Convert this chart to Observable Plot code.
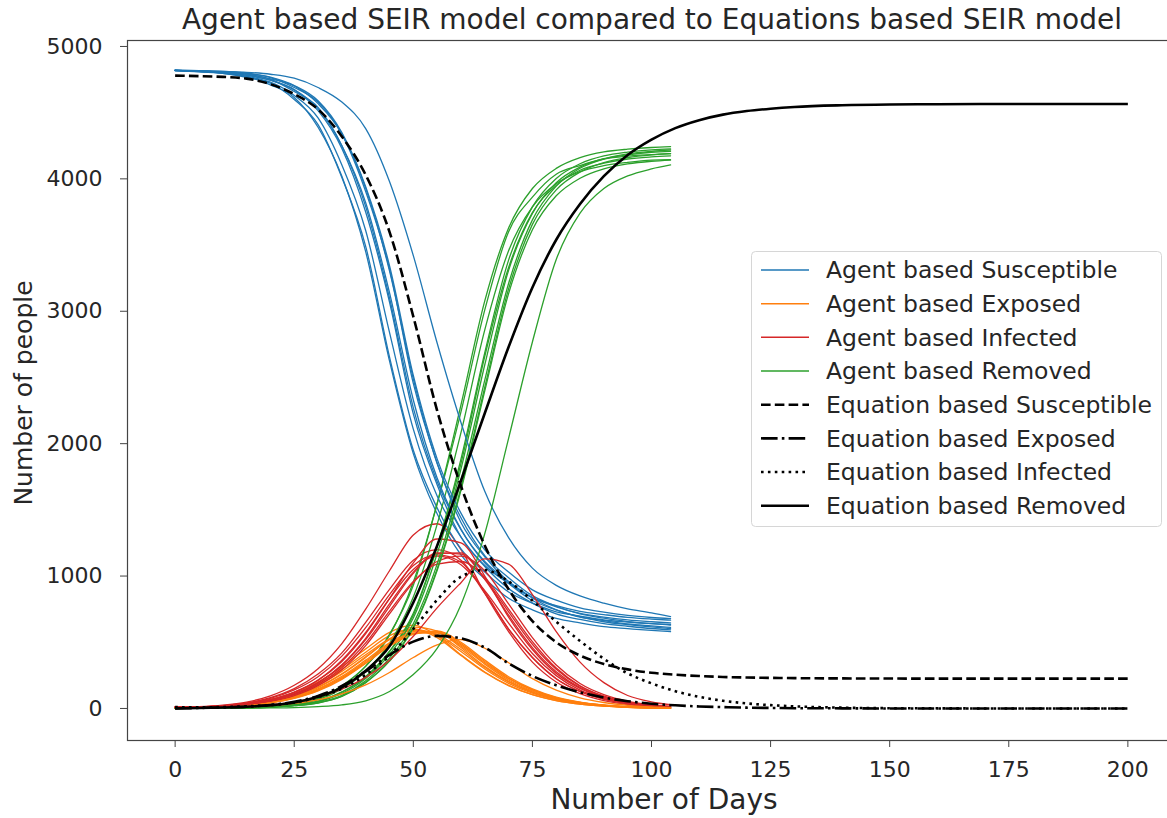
<!DOCTYPE html>
<html><head><meta charset="utf-8">
<script src="https://cdn.jsdelivr.net/npm/d3@7"></script>
<script src="https://cdn.jsdelivr.net/npm/@observablehq/plot@0.6"></script>
<style>body{margin:0;background:#fff;} svg{display:block;}</style>
</head><body><div id="chart"></div>
<script>
// ---------- data ----------
const agentDays = [0,5,10,15,20,25,30,35,40,45,50,55,60,65,70,75,80,85,90,95,100,104];

const agentSusceptible = [
  [4818,4810,4797,4772,4710,4615,4390,4020,3450,2625,1925,1470,1160,980,832,745,680,646,618,603,589,580],
  [4819,4813,4796,4766,4722,4600,4410,4010,3490,2655,1950,1515,1205,1030,880,795,730,698,668,653,641,634],
  [4820,4808,4801,4774,4730,4630,4460,4105,3610,2840,2110,1605,1295,1080,945,838,776,733,709,688,675,667],
  [4818,4815,4803,4784,4745,4672,4515,4230,3750,3070,2225,1690,1295,1072,905,796,715,672,640,621,604,594],
  [4822,4812,4806,4790,4752,4660,4540,4250,3790,3100,2270,1715,1350,1110,958,838,768,718,690,669,655,646],
  [4817,4816,4802,4782,4745,4675,4530,4250,3820,3140,2330,1740,1355,1100,945,815,745,690,663,638,623,612],
  [4820,4814,4810,4796,4765,4690,4580,4340,3930,3305,2490,1850,1440,1155,988,852,772,714,682,656,641,630],
  [4818,4816,4806,4790,4755,4702,4568,4338,3905,3320,2455,1855,1405,1145,958,834,745,694,655,633,616,603],
  [4821,4813,4811,4798,4768,4705,4590,4350,3940,3345,2515,1885,1475,1198,1030,896,818,760,727,703,687,678],
  [4821,4818,4812,4805,4790,4760,4690,4580,4380,3980,3420,2760,2160,1640,1290,1060,930,850,795,752,722,693]
];
const agentExposed = [
  [0,8,18,35,68,120,200,315,450,575,630,550,405,275,175,105,60,33,18,9,4,2],
  [0,6,15,30,60,110,185,295,425,550,600,535,400,272,172,104,60,33,18,9,4,2],
  [0,7,16,32,62,105,175,280,405,525,590,550,430,298,190,115,66,36,20,10,5,2],
  [0,5,12,25,50,92,158,258,385,525,615,585,460,318,205,125,73,40,22,11,5,3],
  [0,5,11,23,47,86,148,242,365,495,580,575,470,335,215,132,76,42,23,12,6,3],
  [0,6,13,27,52,95,163,262,390,520,595,560,445,310,200,122,70,39,21,11,5,3],
  [0,4,10,21,42,79,137,226,345,475,565,580,490,355,230,142,82,46,25,13,6,3],
  [0,5,11,22,44,82,142,233,355,485,570,570,480,345,225,138,80,45,24,12,6,3],
  [0,4,10,20,42,76,132,220,340,470,560,585,500,365,240,148,86,48,26,13,7,3],
  [0,3,6,11,21,38,65,110,178,272,385,480,520,455,345,225,138,80,45,24,12,6]
];
const agentInfected = [
  [10,14,25,48,95,175,300,490,750,1040,1310,1395,1200,870,580,350,200,112,60,30,15,8],
  [10,12,22,42,82,150,260,420,650,900,1120,1200,1120,880,600,385,225,128,70,37,18,10],
  [10,13,20,40,76,140,240,395,610,860,1080,1160,1105,870,600,385,225,128,70,36,17,9],
  [10,12,18,34,65,122,212,355,565,830,1100,1280,1250,1000,690,445,265,152,84,44,22,12],
  [10,11,17,32,60,110,195,325,520,770,1020,1170,1175,975,705,460,278,158,88,47,24,13],
  [10,12,19,36,68,124,215,365,575,830,1050,1150,1085,890,645,415,248,138,77,40,20,10],
  [10,11,16,29,52,97,172,292,475,715,950,1110,1150,1040,790,535,328,188,104,54,28,15],
  [10,12,17,31,57,105,182,308,495,735,960,1090,1110,990,750,505,305,172,94,50,25,13],
  [10,11,17,32,60,110,193,330,530,790,1030,1175,1165,980,730,485,296,168,91,48,24,12],
  [10,10,12,18,28,50,85,145,235,365,545,760,950,1130,1090,860,580,350,195,98,50,28]
];
const agentRemoved = [
  [0,2,4,8,17,34,76,170,318,552,955,1549,2292,3078,3629,3927,4079,4160,4203,4224,4237,4243],
  [0,1,5,9,16,36,72,172,320,560,930,1545,2240,3010,3600,3862,4035,4100,4150,4172,4183,4190],
  [0,2,4,7,15,30,66,148,281,494,842,1390,2083,2859,3457,3789,3963,4055,4100,4125,4142,4146],
  [0,1,3,6,13,25,55,123,241,432,719,1227,1883,2687,3386,3788,4003,4114,4173,4202,4219,4226],
  [0,2,3,7,12,27,52,125,235,430,705,1220,1850,2660,3330,3745,3950,4065,4118,4150,4166,4174],
  [0,1,3,6,12,24,51,113,226,408,683,1168,1808,2596,3309,3739,3971,4089,4152,4181,4201,4208],
  [0,0,3,5,10,21,42,92,197,361,613,1054,1667,2426,3169,3656,3917,4051,4122,4160,4181,4190],
  [0,1,3,6,12,23,46,100,210,380,640,1090,1720,2480,3210,3690,3945,4080,4150,4188,4208,4218],
  [0,0,2,5,10,21,41,91,195,357,606,1042,1648,2399,3133,3615,3872,4005,4076,4113,4133,4142],
  [0,0,0,2,4,7,14,27,58,128,256,454,784,1320,2040,2768,3391,3741,3927,4022,4075,4105]
];

const eqDays = [0,5,10,15,20,25,30,35,40,45,50,55,60,65,70,75,80,85,90,95,100,105,110,115,120,125,130,140,150,160,170,180,190,200];
const eqSusceptible = [4780,4776,4770,4757,4715,4640,4525,4320,4030,3600,2960,2250,1680,1230,900,660,500,400,335,295,270,255,245,238,234,231,229,227,226,225,225,225,225,225];
const eqExposed     = [0,4,8,14,26,50,95,170,280,405,505,548,530,460,340,245,175,122,82,55,36,24,15,10,6,4,2,1,0,0,0,0,0,0];
const eqInfected    = [10,9,11,16,26,45,85,150,255,400,600,820,995,1045,960,815,655,510,375,265,190,130,88,58,38,25,16,6,2,1,0,0,0,0];
const eqRemoved     = [0,3,7,13,24,45,88,160,285,470,800,1230,1720,2230,2730,3180,3540,3810,4020,4180,4296,4383,4443,4485,4512,4530,4543,4556,4562,4564,4565,4565,4565,4565];

const compartments = ["Susceptible","Exposed","Infected","Removed"];
const agentColors = ["#1f77b4","#ff7f0e","#d62728","#2ca02c"];
const xTicks = [0,25,50,75,100,125,150,175,200];
const yTicks = [0,1000,2000,3000,4000,5000];
const titleText = "Agent based SEIR model compared to Equations based SEIR model";
const xLabel = "Number of Days";
const yLabel = "Number of people";

// ---------- build tables ----------
const agentSets = [agentSusceptible, agentExposed, agentInfected, agentRemoved];
const agentRows = [];
for (let r = 0; r < agentSusceptible.length; r++) {
  agentSets.forEach((set, ci) => {
    set[r].forEach((v, i) => agentRows.push({day: agentDays[i], value: v, comp: compartments[ci], key: r + "-" + ci}));
  });
}
const eqSets = [eqSusceptible, eqExposed, eqInfected, eqRemoved];
const eqRows = eqSets.map((set, ci) => set.map((v, i) => ({day: eqDays[i], value: v, comp: compartments[ci]})));
const eqStyles = [
  {dash: "9.6,4.2"},
  {dash: "16.6,4.2,2.6,4.2"},
  {dash: "2.6,4.3"},
  {dash: null}
];

const font = "'DejaVu Sans', sans-serif";
const chart = Plot.plot({
  width: 1167, height: 818,
  marginLeft: 127, marginRight: -8, marginTop: 40, marginBottom: 78,
  style: {fontFamily: font, fontSize: "22px", color: "#262626", background: "#fff"},
  x: {domain: [-10, 210]},
  y: {domain: [-242, 5045]},
  color: {domain: compartments, range: agentColors},
  marks: [
    Plot.line(agentRows, {x: "day", y: "value", z: "key", stroke: "comp", strokeWidth: 1.3, curve: "monotone-x"}),
    ...eqRows.map((rows, i) => Plot.line(rows, {
      x: "day", y: "value", stroke: "#000", strokeWidth: 2.6, curve: "monotone-x",
      strokeDasharray: eqStyles[i].dash || undefined, strokeLinecap: "butt"
    })),
    Plot.frame({stroke: "#444", strokeWidth: 1.2}),
    Plot.axisX({ticks: xTicks, tickSize: 7, tickPadding: 14, stroke: "#444", fill: "#262626", label: null, fontSize: 22, tickFormat: d => String(d)}),
    Plot.axisY({ticks: yTicks, tickSize: 7, tickPadding: 18, stroke: "#444", fill: "#262626", label: null, fontSize: 22, tickFormat: d => String(d)})
  ]
});
document.getElementById("chart").appendChild(chart);

const svg = d3.select(chart);
svg.append("text").attr("x", 652).attr("y", 29).attr("text-anchor", "middle")
  .attr("font-family", font).attr("font-size", 28).attr("fill", "#262626").text(titleText);
svg.append("text").attr("x", 664).attr("y", 809).attr("text-anchor", "middle")
  .attr("font-family", font).attr("font-size", 28).attr("fill", "#262626").text(xLabel);
svg.append("text").attr("transform", "translate(32,393) rotate(-90)").attr("text-anchor", "middle")
  .attr("font-family", font).attr("font-size", 25).attr("fill", "#262626").text(yLabel);

// legend
const legendItems = [
  ...compartments.map((c, i) => ({label: "Agent based " + c, color: agentColors[i], width: 1.5, dash: null})),
  ...compartments.map((c, i) => ({label: "Equation based " + c, color: "#000", width: 2.6, dash: eqStyles[i].dash}))
];
const lg = svg.append("g");
lg.append("rect").attr("x", 751.5).attr("y", 251.5).attr("width", 410).attr("height", 275)
  .attr("rx", 4).attr("fill", "#fff").attr("fill-opacity", 0.85).attr("stroke", "#d6d6d6");
legendItems.forEach((it, i) => {
  const y = 270 + i * 33.67;
  const ln = lg.append("line").attr("x1", 761).attr("x2", 809).attr("y1", y).attr("y2", y)
    .attr("stroke", it.color).attr("stroke-width", it.width);
  if (it.dash) ln.attr("stroke-dasharray", it.dash);
  lg.append("text").attr("x", 826).attr("y", y).attr("dy", "0.35em").attr("text-anchor", "start")
    .attr("font-family", font).attr("font-size", 23.5).attr("fill", "#262626").text(it.label);
});
</script>
</body></html>
